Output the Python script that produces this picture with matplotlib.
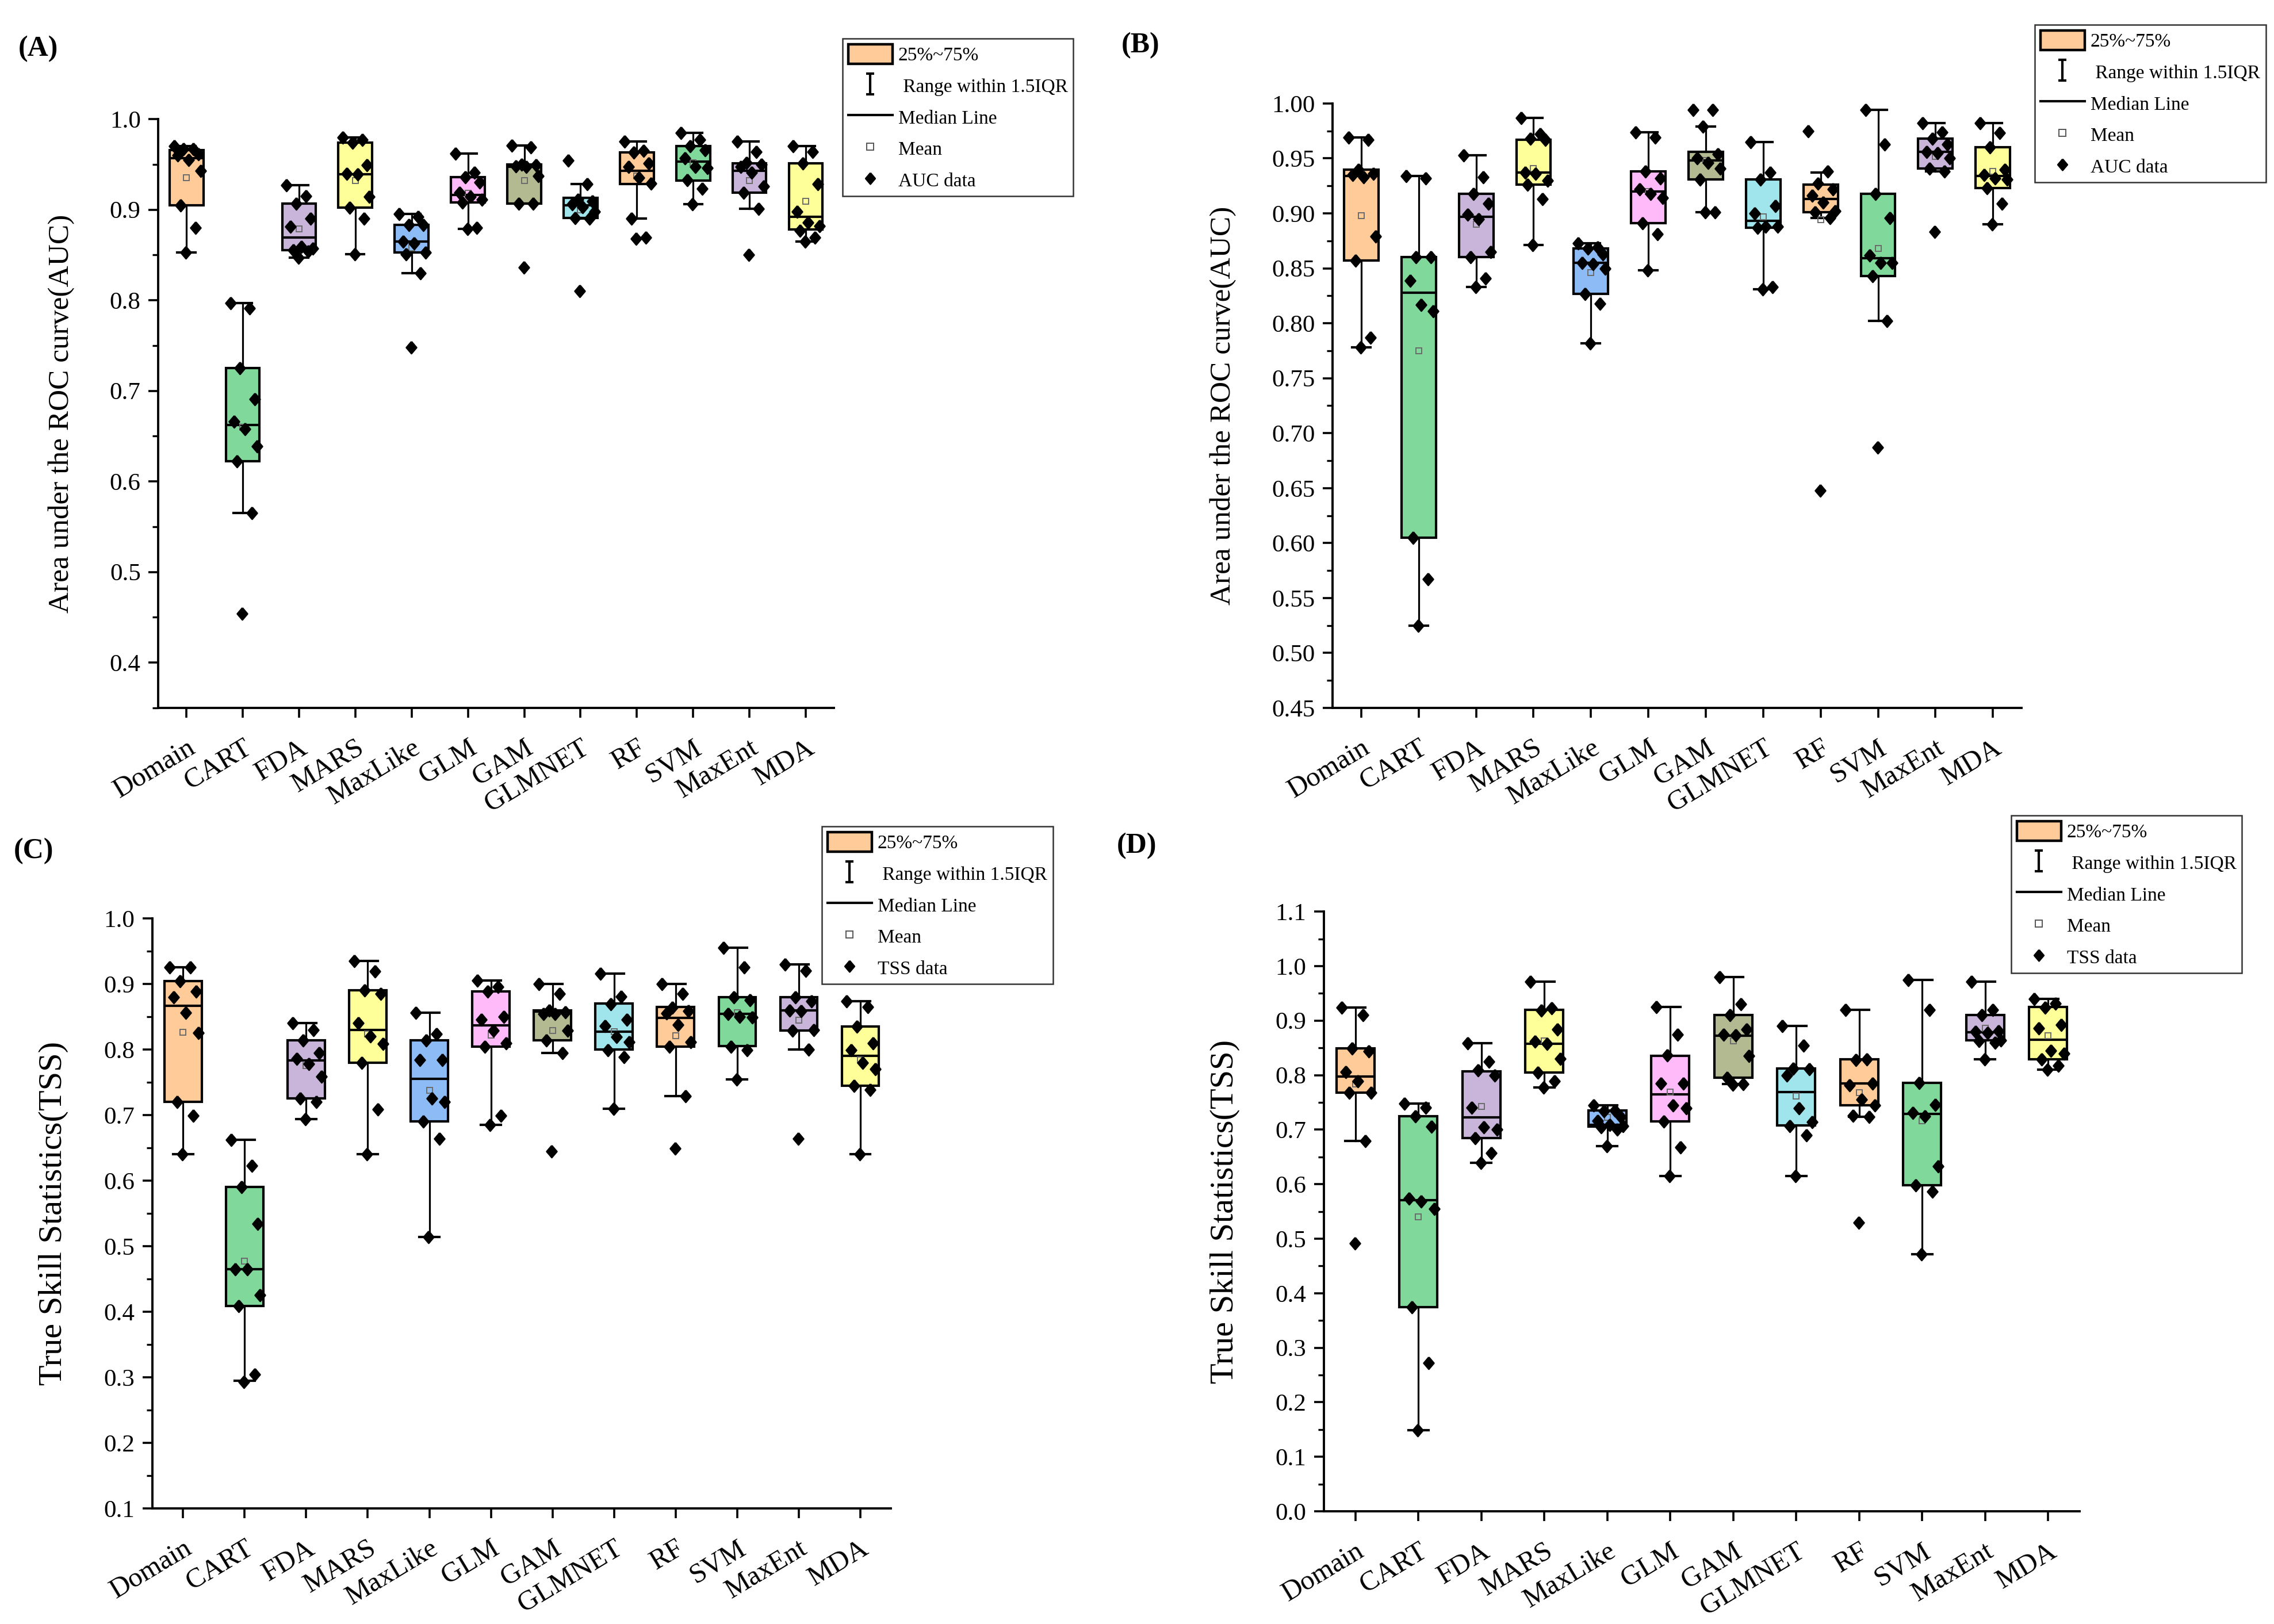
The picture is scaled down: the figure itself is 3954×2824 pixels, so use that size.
import numpy as np
import matplotlib
matplotlib.use("Agg")
import matplotlib.pyplot as plt
from matplotlib.lines import Line2D
from matplotlib.patches import Patch
from matplotlib.path import Path
from matplotlib.transforms import ScaledTranslation
from matplotlib.ticker import FormatStrFormatter, MultipleLocator

plt.rcParams['font.family'] = ['Liberation Serif', 'DejaVu Serif']

models = ["Domain", "CART", "FDA", "MARS", "MaxLike", "GLM", "GAM",
          "GLMNET", "RF", "SVM", "MaxEnt", "MDA"]

# couleurs des boites (reprises dans l'ordre)
box_colors = ["#FFCB99", "#80D99B", "#C8B5D9", "#FFFF99", "#8DBBF5", "#FFBAF9",
              "#B3BA91", "#A1E5EC", "#FFCB99", "#80D99B", "#C8B5D9", "#FFFF99"]

# ---- (A) AUC ----
a_q1 = [.905, .622, .855, .902, .853, .908, .907, .891, .928, .932, .919, .878]
a_med = [.957, .662, .869, .939, .865, .916, .947, .905, .943, .953, .943, .892]
a_q3 = [.966, .725, .907, .974, .883, .936, .950, .913, .963, .970, .951, .951]
a_lo = [.853, .565, .847, .851, .830, .879, .907, .890, .890, .906, .901, .865]
a_hi = [.970, .797, .927, .980, .895, .962, .971, .928, .975, .985, .975, .970]
a_mean = [.935, .660, .879, .932, .858, .918, .932, .900, .937, .952, .932, .909]
a_pts = [
    [.970, .967, .967, .961, .960, .955, .943, .905, .880, .853],
    [.797, .791, .725, .691, .666, .658, .639, .622, .565, .454],
    [.927, .915, .907, .890, .881, .859, .857, .855, .854, .847],
    [.980, .977, .974, .949, .940, .939, .914, .902, .890, .851],
    [.895, .892, .883, .883, .865, .863, .853, .851, .830, .748],
    [.962, .941, .936, .930, .919, .914, .911, .908, .880, .879],
    [.971, .969, .950, .949, .948, .947, .937, .907, .907, .836],
    [.954, .928, .911, .909, .906, .903, .898, .891, .890, .810],
    [.975, .965, .963, .951, .947, .935, .929, .890, .869, .868],
    [.985, .977, .970, .966, .957, .947, .946, .933, .923, .906],
    [.975, .964, .952, .950, .947, .941, .926, .919, .901, .850],
    [.970, .964, .951, .928, .898, .886, .882, .877, .869, .865],
]

# ---- (B) AUC ----
b_q1 = [.857, .605, .860, .926, .827, .891, .931, .887, .901, .843, .941, .923]
b_med = [.934, .828, .897, .937, .855, .920, .948, .893, .913, .859, .956, .934]
b_q3 = [.940, .860, .918, .967, .868, .938, .956, .931, .926, .918, .968, .960]
b_lo = [.778, .525, .833, .871, .782, .848, .901, .831, .896, .802, .938, .890]
b_hi = [.969, .934, .953, .987, .873, .974, .979, .965, .937, .994, .982, .982]
b_mean = [.898, .775, .890, .941, .846, .920, .948, .897, .894, .868, .952, .938]
b_pts = [
    [.969, .967, .940, .936, .935, .933, .879, .857, .787, .778],
    [.934, .932, .860, .860, .839, .817, .811, .605, .567, .525],
    [.953, .933, .918, .909, .899, .895, .865, .860, .841, .833],
    [.987, .972, .968, .967, .937, .936, .930, .926, .913, .871],
    [.873, .869, .868, .863, .855, .854, .850, .827, .818, .782],
    [.974, .969, .938, .932, .922, .918, .914, .891, .881, .848],
    [.994, .994, .979, .954, .950, .946, .941, .931, .901, .901],
    [.965, .937, .931, .907, .900, .888, .888, .887, .833, .831],
    [.975, .938, .927, .922, .916, .910, .902, .901, .896, .648],
    [.994, .963, .918, .896, .862, .855, .855, .843, .802, .687],
    [.982, .974, .968, .963, .956, .955, .950, .941, .938, .883],
    [.982, .973, .960, .940, .935, .932, .931, .923, .909, .890],
]

# ---- (C) TSS ----
c_q1 = [.720, .409, .725, .780, .690, .804, .814, .800, .804, .805, .829, .745]
c_med = [.867, .465, .783, .830, .755, .837, .858, .827, .848, .854, .860, .790]
c_q3 = [.904, .590, .814, .890, .814, .889, .860, .870, .865, .880, .880, .835]
c_lo = [.640, .295, .694, .640, .514, .685, .795, .710, .729, .754, .800, .640]
c_hi = [.925, .662, .840, .935, .856, .905, .900, .916, .900, .955, .930, .874]
c_mean = [.826, .477, .775, .824, .738, .822, .829, .827, .821, .856, .845, .784]
c_pts = [
    [.925, .925, .904, .889, .880, .856, .825, .720, .699, .640],
    [.662, .623, .590, .534, .465, .465, .425, .409, .304, .293],
    [.840, .830, .814, .795, .786, .778, .759, .725, .720, .694],
    [.935, .919, .890, .885, .840, .820, .809, .780, .709, .640],
    [.856, .824, .814, .784, .784, .725, .720, .690, .664, .514],
    [.905, .896, .889, .850, .846, .829, .810, .804, .699, .685],
    [.900, .885, .860, .857, .854, .854, .829, .814, .795, .645],
    [.916, .881, .869, .846, .836, .819, .811, .799, .789, .710],
    [.900, .885, .864, .859, .855, .838, .811, .804, .729, .649],
    [.955, .925, .880, .875, .854, .850, .849, .804, .799, .754],
    [.930, .920, .880, .874, .860, .859, .830, .829, .800, .664],
    [.874, .865, .835, .810, .799, .780, .770, .745, .739, .640],
]

# ---- (D) TSS ----
d_q1 = [.768, .374, .685, .805, .706, .715, .795, .708, .745, .598, .864, .829]
d_med = [.797, .571, .722, .857, .709, .765, .872, .769, .785, .729, .879, .865]
d_q3 = [.849, .725, .807, .920, .735, .835, .910, .812, .829, .786, .910, .925]
d_lo = [.679, .149, .639, .777, .670, .615, .784, .615, .724, .471, .829, .810]
d_hi = [.924, .748, .859, .971, .745, .925, .980, .890, .920, .975, .971, .940]
d_mean = [.784, .540, .743, .863, .722, .769, .863, .762, .768, .716, .886, .872]
d_pts = [
    [.924, .910, .849, .844, .806, .789, .768, .768, .679, .492],
    [.748, .740, .725, .706, .574, .568, .555, .374, .272, .149],
    [.859, .825, .809, .799, .740, .705, .700, .685, .657, .639],
    [.971, .923, .919, .884, .862, .858, .830, .805, .789, .777],
    [.745, .735, .734, .724, .716, .709, .707, .705, .700, .670],
    [.925, .874, .836, .785, .785, .745, .739, .715, .668, .615],
    [.980, .930, .910, .884, .874, .873, .835, .795, .784, .783],
    [.890, .854, .812, .811, .799, .739, .714, .707, .690, .615],
    [.920, .829, .828, .785, .782, .755, .745, .726, .724, .529],
    [.975, .920, .786, .746, .731, .725, .633, .598, .586, .471],
    [.971, .920, .910, .881, .880, .878, .864, .863, .860, .829],
    [.940, .931, .924, .892, .886, .845, .840, .829, .817, .810],
]

# decalage horizontal des points (style seulement)
JITTER = [-0.22, 0.12, -0.05, 0.21, -0.15, 0.04, 0.25, -0.10, 0.16, -0.01]
DIAMOND = [(0, 1), (0.85, 0), (0, -1), (-0.85, 0), (0, 1)]
IBAR = Path([(-0.4, 1), (0.4, 1), (0, 1), (0, -1), (-0.4, -1), (0.4, -1)],
            [Path.MOVETO, Path.LINETO, Path.MOVETO, Path.LINETO, Path.MOVETO, Path.LINETO])


def draw_panel(ax, q1, med, q3, lo, hi, mean, pts, ylim, step, fmt):
    stats = []
    for i in range(len(models)):
        stats.append(dict(med=med[i], q1=q1[i], q3=q3[i], whislo=lo[i],
                          whishi=hi[i], mean=mean[i], fliers=[]))
    pos = np.arange(1, len(models) + 1)
    bp = ax.bxp(stats, positions=pos, widths=0.6, capwidths=0.32,
                patch_artist=True, showmeans=True, showfliers=False,
                boxprops=dict(linewidth=1.5, edgecolor='black'),
                medianprops=dict(color='black', linewidth=1.5),
                whiskerprops=dict(color='black', linewidth=1.15),
                capprops=dict(color='black', linewidth=1.5),
                meanprops=dict(marker='s', markersize=3.6, markerfacecolor='none',
                               markeredgecolor='#6b6b6b', markeredgewidth=0.7))
    for patch, col in zip(bp['boxes'], box_colors):
        patch.set_facecolor(col)
    for i, vals in enumerate(pts):
        xs = [pos[i] + JITTER[k % len(JITTER)] for k in range(len(vals))]
        ax.plot(xs, vals, linestyle='none', marker=DIAMOND, markersize=7.5,
                color='black', zorder=5)

    ax.set_xlim(0.5, 12.5)
    ax.set_ylim(*ylim)
    ax.yaxis.set_major_locator(MultipleLocator(step))
    ax.yaxis.set_minor_locator(MultipleLocator(step / 2))
    ax.yaxis.set_major_formatter(FormatStrFormatter(fmt))
    ax.set_xticks(pos)
    ax.set_xticklabels(models, rotation=31, ha='right', va='top',
                       rotation_mode='anchor', fontsize=17.5)
    shift = ScaledTranslation(6 / 72, 0, ax.figure.dpi_scale_trans)
    for lab in ax.get_xticklabels():
        lab.set_transform(lab.get_transform() + shift)
    ax.tick_params(axis='x', direction='out', length=6, width=1.3, pad=11)
    ax.tick_params(axis='y', which='major', direction='out', length=6, width=1.3,
                   labelsize=15.5, pad=5)
    ax.tick_params(axis='y', which='minor', direction='out', length=3.5, width=1.2)
    ax.spines['top'].set_visible(False)
    ax.spines['right'].set_visible(False)
    ax.spines['left'].set_linewidth(1.4)
    ax.spines['bottom'].set_linewidth(1.4)


def add_legend(fig, x, y, data_label):
    handles = [
        Patch(facecolor=box_colors[0], edgecolor='black', linewidth=1.6),
        Line2D([], [], linestyle='none', marker=IBAR, markersize=13,
               markeredgewidth=1.5, color='black'),
        Line2D([], [], color='black', linewidth=1.5),
        Line2D([], [], linestyle='none', marker='s', markersize=4,
               markerfacecolor='none', markeredgecolor='#555555', markeredgewidth=0.7),
        Line2D([], [], linestyle='none', marker=DIAMOND, markersize=7, color='black'),
    ]
    labels = ["25%~75%", " Range within 1.5IQR", "Median Line", "Mean", data_label]
    leg = fig.legend(handles, labels, loc='upper left', bbox_to_anchor=(x, y),
                     fontsize=12, frameon=True, fancybox=False, framealpha=1,
                     edgecolor='#333333', borderpad=0.3, labelspacing=0.58,
                     handlelength=2.3, handleheight=1.2, handletextpad=0.3,
                     borderaxespad=0)
    leg.get_frame().set_linewidth(0.9)


fig = plt.figure(figsize=(19.77, 14.12), dpi=200)

ax_a = fig.add_axes([0.0696, 0.5641, 0.2971, 0.3626])
draw_panel(ax_a, a_q1, a_med, a_q3, a_lo, a_hi, a_mean, a_pts, (0.35, 1.0), 0.1, '%.1f')
ax_a.set_ylabel("Area under the ROC curve(AUC)", fontsize=18.5, labelpad=22)

ax_b = fig.add_axes([0.5860, 0.5641, 0.3030, 0.3722])
draw_panel(ax_b, b_q1, b_med, b_q3, b_lo, b_hi, b_mean, b_pts, (0.45, 1.0), 0.05, '%.2f')
ax_b.set_ylabel("Area under the ROC curve(AUC)", fontsize=18.5, labelpad=22)

ax_c = fig.add_axes([0.0670, 0.0712, 0.3248, 0.3633])
draw_panel(ax_c, c_q1, c_med, c_q3, c_lo, c_hi, c_mean, c_pts, (0.1, 1.0), 0.1, '%.1f')
ax_c.set_ylabel("True Skill Statistics(TSS)", fontsize=21, labelpad=22)

ax_d = fig.add_axes([0.5822, 0.0694, 0.3323, 0.3693])
draw_panel(ax_d, d_q1, d_med, d_q3, d_lo, d_hi, d_mean, d_pts, (0.0, 1.1), 0.1, '%.1f')
ax_d.set_ylabel("True Skill Statistics(TSS)", fontsize=21, labelpad=22)

add_legend(fig, 0.3705, 0.9763, "AUC data")
add_legend(fig, 0.8948, 0.9848, "AUC data")
add_legend(fig, 0.3614, 0.4912, "TSS data")
add_legend(fig, 0.8844, 0.4979, "TSS data")

fig.text(0.008, 0.970, "(A)", fontsize=18, fontweight='bold', va='center')
fig.text(0.493, 0.972, "(B)", fontsize=18, fontweight='bold', va='center')
fig.text(0.006, 0.476, "(C)", fontsize=18, fontweight='bold', va='center')
fig.text(0.491, 0.479, "(D)", fontsize=18, fontweight='bold', va='center')

fig.savefig("out.png", dpi=200, facecolor='white')
